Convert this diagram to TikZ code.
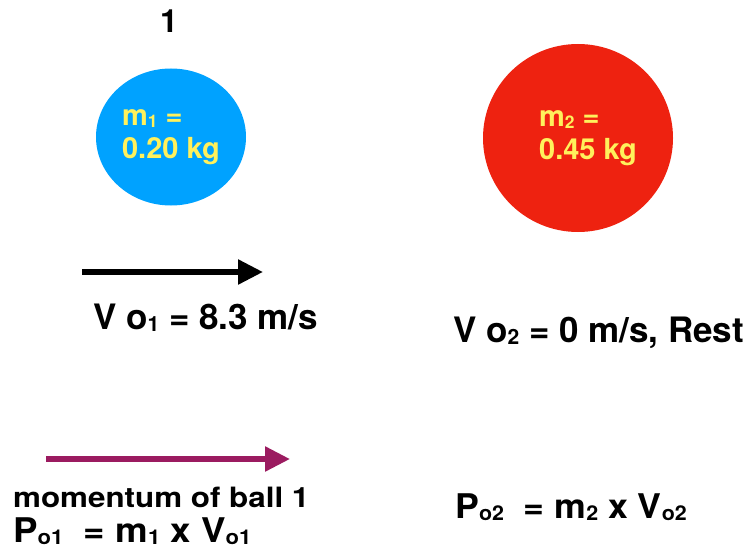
\documentclass[tikz,border=0pt]{standalone}
\usepackage{fontspec}
\setmainfont{TeX Gyre Heros}
\usetikzlibrary{arrows.meta, shapes.geometric, positioning}
\definecolor{ballblue}{RGB}{0,162,255}
\definecolor{ballred}{RGB}{238,34,16}
\definecolor{massyellow}{RGB}{255,241,92}
\definecolor{momentumpurple}{RGB}{155,27,96}
% small index set a little below the line
\newcommand{\lowidx}[1]{\raisebox{-0.06em}{\scalebox{0.6}{#1}}}
\begin{document}
\begin{tikzpicture}[
        x=1pt, y=-1pt,
        ball/.style={ellipse, inner sep=0pt},
        mass/.style={align=left, inner sep=0pt, text=massyellow, font=\fontsize{29}{33}\selectfont\bfseries},
        txt/.style={anchor=base west, inner sep=0pt, font=\fontsize{35}{40}\selectfont\bfseries},
        velarrow/.style={-{Triangle[length=25pt, width=24pt]}, line width=5.5pt},
    ]
        \useasboundingbox (0,0) rectangle (751,559);

        % the two balls
        \node[ball, fill=ballblue, minimum width=150pt, minimum height=137pt] (ball1) at (171,137) {};
        \node[ball, fill=ballred, minimum width=190pt, minimum height=188pt] (ball2) at (578,138) {};
        \node[mass] (mass1) at (ball1.center) {m\lowidx{1} =\\0.20 kg};
        \node[mass] (mass2) at ([xshift=10pt]ball2.center) {m\lowidx{2} =\\0.45 kg};
        \node[anchor=base, inner sep=0pt, font=\fontsize{32}{36}\selectfont\bfseries] (num1) at (169,33) {1};

        % velocities
        \coordinate (v1start) at (82,272);
        \coordinate (v1end) at (263,272);
        \draw[velarrow, black] (v1start) -- (v1end);
        \node[txt] (vel1) at (93,329) {V o\lowidx{1} = 8.3 m/s};
        \node[txt] (vel2) at (453,342) {V o\lowidx{2} = 0 m/s, Rest};

        % momentum
        \coordinate (p1start) at (46,459);
        \coordinate (p1end) at (290,459);
        \draw[velarrow, momentumpurple] (p1start) -- (p1end);
        \node[txt, font=\fontsize{28}{32}\selectfont\bfseries] (mom1) at (13,507) {\scalebox{1.12}[1]{momentum of ball 1}};
        \node[txt, font=\fontsize{34}{36}\selectfont\bfseries] (p1) at (13,542) {\scalebox{1.08}[1]{P\lowidx{o1}\ \ = m\lowidx{1} x V\lowidx{o1}}};
        \node[txt, font=\fontsize{34}{36}\selectfont\bfseries] (p2) at (455,518) {\scalebox{1.05}[1]{P\lowidx{o2}\ \ = m\lowidx{2} x V\lowidx{o2}}};
    \end{tikzpicture}
\end{document}
